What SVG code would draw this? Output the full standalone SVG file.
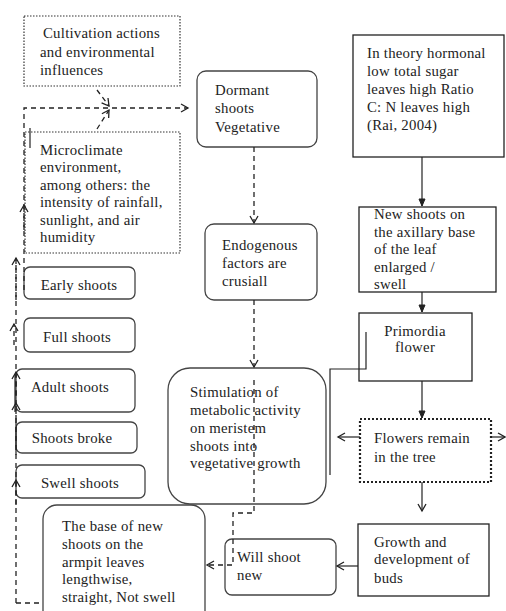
<svg xmlns="http://www.w3.org/2000/svg" width="506" height="611" viewBox="0 0 506 611" font-family="Liberation Serif, DejaVu Serif, serif">
<style>
text{font-family:'Liberation Serif','DejaVu Serif',serif;font-size:14.8px;fill:#222;letter-spacing:0.25px}
.rb{fill:#fff;stroke:#444;stroke-width:1.3}
.sq{fill:#fff;stroke:#222;stroke-width:1.3}
.dot{fill:#fff;stroke:#333;stroke-width:1.2;stroke-dasharray:1.5 1.5}
.dot2{fill:#fff;stroke:#222;stroke-width:2.2;stroke-dasharray:2 2}
.c{fill:none;stroke:#222;stroke-width:1.2}
.d{fill:none;stroke:#222;stroke-width:1.3;stroke-dasharray:5 4}
.m{text-anchor:middle}
</style>
<defs>
<marker id="a" markerWidth="10" markerHeight="10" refX="8" refY="5" orient="auto" markerUnits="userSpaceOnUse">
<path d="M1,1 L8,5 L1,9" fill="none" stroke="#222" stroke-width="1.3"/>
</marker>
<marker id="f" markerWidth="10" markerHeight="10" refX="8" refY="5" orient="auto" markerUnits="userSpaceOnUse">
<path d="M1,2 L8,5 L1,8 Z" fill="#222" stroke="#222" stroke-width="1"/>
</marker>
</defs>
<rect width="506" height="611" fill="#fff"/>

<g id="cultivation"><rect class="dot" x="24" y="16" width="156" height="70"/>
<text x="43" y="38">Cultivation actions</text><text x="40" y="57">and environmental</text><text x="40" y="75">influences</text></g>

<g id="microclimate"><rect class="dot" x="25" y="132" width="155" height="121"/>
<text x="40" y="155">Microclimate</text><text x="40" y="172">environment,</text><text x="40" y="190">among others: the</text><text x="40" y="207">intensity of rainfall,</text><text x="40" y="225">sunlight, and air</text><text x="40" y="242">humidity</text></g>

<g id="dormant"><rect class="rb" x="197" y="71" width="120" height="76" rx="9"/>
<text x="215" y="95">Dormant</text><text x="215" y="113">shoots</text><text x="215" y="132">Vegetative</text></g>

<g id="theory"><rect class="sq" x="353" y="35" width="151" height="122"/>
<text x="367" y="58">In theory hormonal</text><text x="367" y="76">low total sugar</text><text x="367" y="94">leaves high Ratio</text><text x="367" y="112">C: N leaves high</text><text x="367" y="130">(Rai, 2004)</text></g>

<g id="newshoots"><rect class="sq" x="359" y="207" width="137" height="85"/>
<text x="374" y="219">New shoots on</text><text x="374" y="237">the axillary base</text><text x="374" y="254">of the leaf</text><text x="374" y="272">enlarged /</text><text x="374" y="289">swell</text></g>

<g id="endogenous"><rect class="rb" x="205" y="224" width="112" height="76" rx="9"/>
<text x="222" y="250">Endogenous</text><text x="222" y="268">factors are</text><text x="222" y="286">crusiall</text></g>

<g id="early"><rect class="rb" x="24" y="267" width="111" height="32" rx="6"/><text class="m" x="79" y="290">Early shoots</text></g>
<g id="full"><rect class="rb" x="24" y="318" width="111" height="34" rx="6"/><text class="m" x="77" y="342">Full shoots</text></g>
<g id="adult"><rect class="rb" x="16" y="369" width="119" height="43" rx="6"/><text class="m" x="70" y="392">Adult shoots</text></g>
<g id="broke"><rect class="rb" x="16" y="422" width="121" height="31" rx="6"/><text class="m" x="72" y="443">Shoots broke</text></g>
<g id="swell"><rect class="rb" x="16" y="465" width="129" height="33" rx="6"/><text class="m" x="80" y="488">Swell shoots</text></g>

<g id="primordia"><rect class="sq" x="359" y="313" width="113" height="68"/>
<text class="m" x="415" y="336">Primordia</text><text class="m" x="415" y="352">flower</text></g>

<g id="stimulation"><rect class="rb" x="168" y="368" width="158" height="136" rx="22"/>
<text x="190" y="397">Stimulation of</text><text x="190" y="415">metabolic activity</text><text x="190" y="433">on meristem</text><text x="190" y="451">shoots into</text><text x="190" y="468">vegetative growth</text></g>

<g id="flowers"><rect class="dot2" x="360" y="419" width="131" height="63"/>
<text x="374" y="443">Flowers remain</text><text x="374" y="462">in the tree</text></g>

<g id="growth"><rect class="sq" x="358" y="524" width="131" height="72"/>
<text x="374" y="547">Growth and</text><text x="374" y="564">development of</text><text x="374" y="583">buds</text></g>

<g id="willshoot"><rect class="rb" x="225" y="539" width="111" height="56" rx="7"/>
<text x="237" y="562">Will shoot</text><text x="237" y="580">new</text></g>

<g id="base"><rect class="rb" x="43" y="505" width="162" height="125" rx="14"/>
<text x="62" y="531">The base of new</text><text x="62" y="549">shoots on the</text><text x="62" y="567">armpit leaves</text><text x="62" y="584">lengthwise,</text><text x="62" y="602">straight, Not swell</text></g>

<g id="connectors">
<path class="d" d="M24,290 V108 H188" marker-end="url(#a)"/>
<path class="d" d="M97,90 L109,106" marker-end="url(#a)"/>
<path class="d" d="M97,129 L109,110" marker-end="url(#a)"/>
<path class="c" d="M30,128 V148"/>
<path class="d" d="M24,230 V205" marker-end="url(#a)"/>
<path class="d" d="M16,603 V258" />
<path class="d" d="M16,300 V258" marker-end="url(#a)"/>
<path class="d" d="M14,345 V324" marker-end="url(#a)"/>
<path class="d" d="M16,395 V372" marker-end="url(#a)"/>
<path class="c" d="M15,375 V412"/>
<path class="c" d="M16,420 V455"/>
<path class="d" d="M16,420 V403" marker-end="url(#a)"/>
<path class="d" d="M16,505 V480" marker-end="url(#a)"/>
<path class="d" d="M16,603 H42"/>
<path class="d" d="M254,147 V223" marker-end="url(#a)"/>
<path class="d" d="M254,300 V367" marker-end="url(#a)"/>
<path class="d" d="M254,380 V513 H233 V565 H207" marker-end="url(#a)"/>
<path class="c" d="M422,157 V206" marker-end="url(#f)"/>
<path class="c" d="M422,292 V312" marker-end="url(#f)"/>
<path class="c" d="M422,381 V418" marker-end="url(#f)"/>
<path class="c" d="M422,482 V511" marker-end="url(#a)"/>
<path class="c" d="M366,332 V369 H330 V475"/>
<path class="c" d="M360,437 H338" marker-end="url(#a)"/>
<path class="c" d="M491,437 H505" marker-end="url(#a)"/>
<path class="c" d="M358,566 H337" marker-end="url(#a)"/>
</g>
</svg>
